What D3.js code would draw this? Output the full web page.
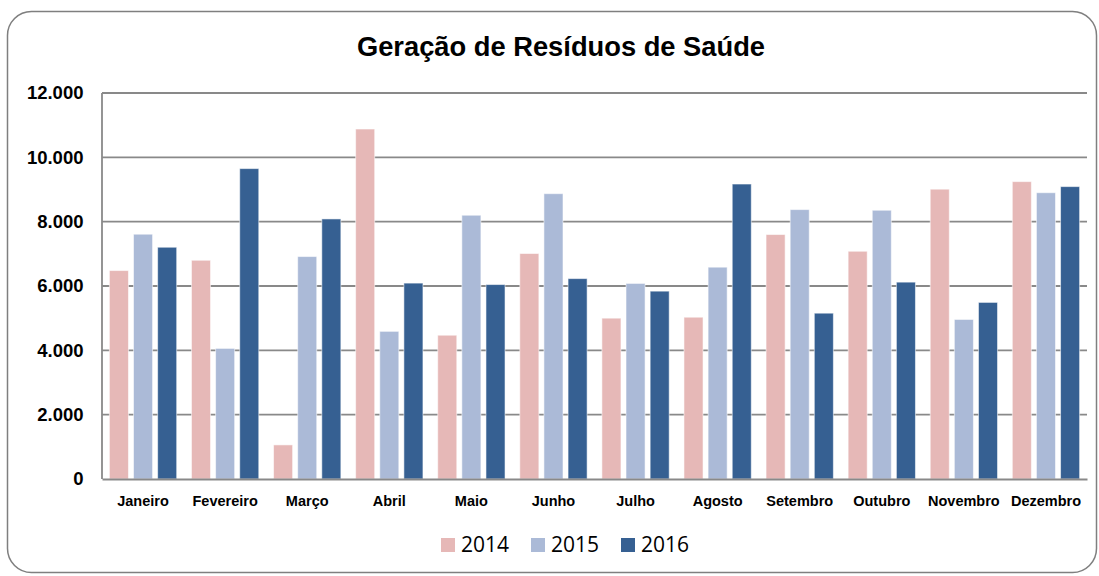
<!DOCTYPE html>
<html>
<head>
<meta charset="utf-8">
<script src="https://cdn.jsdelivr.net/npm/d3@7"></script>
<style>
  html, body { margin: 0; padding: 0; background: #fff; }
  svg { display: block; }
</style>
</head>
<body>
<svg id="chart" width="1099" height="576"></svg>
<script>
// Monthly generation of healthcare waste, by year
const months = ["Janeiro", "Fevereiro", "Março", "Abril", "Maio", "Junho",
                "Julho", "Agosto", "Setembro", "Outubro", "Novembro", "Dezembro"];
const years = ["2014", "2015", "2016"];
const values2014 = [6480, 6800, 1060, 10880, 4470, 7010, 5000, 5030, 7600, 7080, 9010, 9245];
const values2015 = [7610, 4060, 6915, 4590, 8200, 8870, 6080, 6585, 8375, 8355, 4960, 8900];
const values2016 = [7205, 9650, 8085, 6090, 6045, 6230, 5840, 9170, 5155, 6120, 5490, 9090];
const yTicks = [0, 2000, 4000, 6000, 8000, 10000, 12000];
const colors = ["#E6B8B7", "#ABBAD7", "#366092"];
const title = "Geração de Resíduos de Saúde";

const seriesValues = [values2014, values2015, values2016];

const svg = d3.select("#chart");
const plot = { left: 102, right: 1087, top: 93, bottom: 479 };
const gridColor = "#898989";
const sans = "'Liberation Sans', Arial, sans-serif";

// Rounded outer frame
svg.append("rect")
  .attr("x", 7.5).attr("y", 11.5)
  .attr("width", 1089).attr("height", 561)
  .attr("rx", 24).attr("ry", 24)
  .attr("fill", "#fff")
  .attr("stroke", "#7f7f7f")
  .attr("stroke-width", 1.5);

// Title
svg.append("text")
  .attr("x", 561).attr("y", 56)
  .attr("text-anchor", "middle")
  .attr("font-family", sans)
  .attr("font-weight", "bold")
  .attr("font-size", 27.3)
  .attr("fill", "#000")
  .text(title);

// Scales
const x0 = d3.scaleBand()
  .domain(months)
  .range([plot.left, plot.right])
  .paddingInner(0.18)
  .paddingOuter(0.09);

const x1 = d3.scaleBand()
  .domain(years)
  .range([0, x0.bandwidth()])
  .paddingInner(0.21);

const y = d3.scaleLinear()
  .domain([0, 12000])
  .range([plot.bottom, plot.top]);

const ptBR = d3.formatLocale({ decimal: ",", thousands: ".", grouping: [3], currency: ["R$", ""] });
const fmt = ptBR.format(",d");

// Horizontal gridlines
svg.append("g")
  .selectAll("line")
  .data(yTicks.filter(d => d > 0))
  .join("line")
  .attr("x1", plot.left).attr("x2", plot.right)
  .attr("y1", d => y(d)).attr("y2", d => y(d))
  .attr("stroke", gridColor)
  .attr("stroke-width", 1.8);

// Y axis labels
const yAxis = d3.axisLeft(y)
  .tickValues(yTicks)
  .tickFormat(fmt)
  .tickSize(0)
  .tickPadding(18.5);

const gy = svg.append("g")
  .attr("transform", `translate(${plot.left},0)`)
  .call(yAxis);
gy.select(".domain").remove();
gy.selectAll("text")
  .attr("font-family", sans)
  .attr("font-weight", "bold")
  .attr("font-size", 18.5)
  .attr("fill", "#000");

// Bars
const table = months.map((m, i) => ({
  month: m,
  bars: years.map((yr, j) => ({ year: yr, value: seriesValues[j][i], color: colors[j] }))
}));

svg.append("g")
  .selectAll("g")
  .data(table)
  .join("g")
  .attr("transform", d => `translate(${x0(d.month)},0)`)
  .selectAll("rect")
  .data(d => d.bars)
  .join("rect")
  .attr("x", d => x1(d.year))
  .attr("y", d => y(d.value))
  .attr("width", x1.bandwidth())
  .attr("height", d => y(0) - y(d.value))
  .attr("fill", d => d.color)
  .attr("stroke", "#ffffff")
  .attr("stroke-opacity", 0.55)
  .attr("stroke-width", 1);

// Axis lines
svg.append("line")
  .attr("x1", plot.left).attr("x2", plot.left)
  .attr("y1", plot.top).attr("y2", plot.bottom)
  .attr("stroke", gridColor).attr("stroke-width", 1.8);

const xAxis = d3.axisBottom(x0).tickSize(0).tickPadding(17);
const gx = svg.append("g")
  .attr("transform", `translate(0,${plot.bottom})`)
  .call(xAxis);
gx.select(".domain")
  .attr("stroke", gridColor)
  .attr("stroke-width", 2);
gx.selectAll("text")
  .attr("font-family", sans)
  .attr("font-weight", "bold")
  .attr("font-size", 14.5)
  .attr("fill", "#000");

// Legend
const legend = svg.append("g")
  .attr("transform", "translate(441,538)");
const item = legend.selectAll("g")
  .data(years)
  .join("g")
  .attr("transform", (d, i) => `translate(${i * 90},0)`);
item.append("rect")
  .attr("width", 14).attr("height", 14)
  .attr("fill", (d, i) => colors[i]);
item.append("text")
  .attr("x", 20).attr("y", 14)
  .attr("font-family", "'Open Sans', sans-serif")
  .attr("font-size", 21)
  .attr("fill", "#000")
  .text(d => d);
</script>
</body>
</html>
